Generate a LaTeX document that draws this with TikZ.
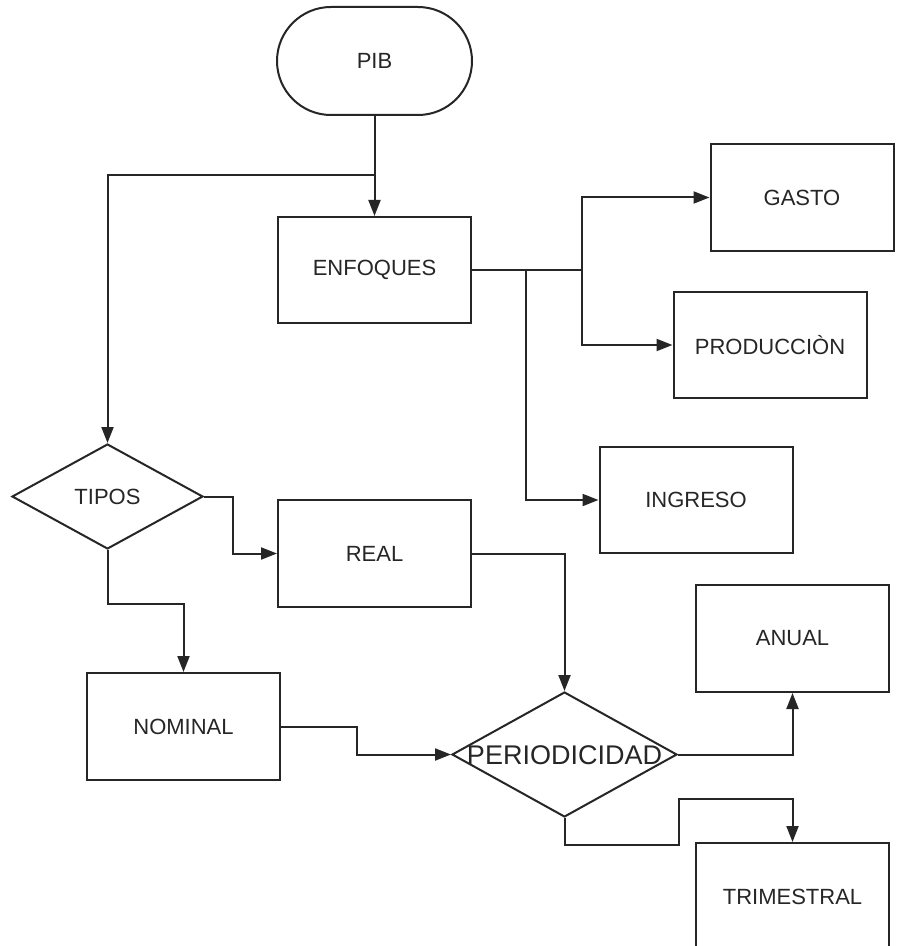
\documentclass[tikz,border=0pt]{standalone}
\usepackage{fontspec}
\setmainfont{Liberation Sans}
\usetikzlibrary{arrows.meta,shapes.geometric}
\definecolor{ink}{HTML}{262626}
\begin{document}
\begin{tikzpicture}[x=0.5pt,y=-0.5pt,
  every node/.style={text=ink,font=\fontsize{11}{13}\selectfont},
  box/.style={draw=ink,line width=1pt,rectangle,inner sep=0pt,
              minimum width=96.5pt,minimum height=53pt},
  terminal/.style={box,rounded corners=27pt,minimum width=97.5pt,minimum height=54pt},
  decision/.style={draw=ink,line width=1pt,diamond,inner sep=0pt},
  link/.style={draw=ink,line width=1pt},
  arr/.style={link,-{Triangle[length=8pt,width=6pt]}}]
\clip (0,0) rectangle (896,946);
\fill[white] (0,0) rectangle (896,946);

% nodes
\node[terminal] (pib) at (374.5,61) {PIB};
\node[box] (enf) at (374.5,270) {ENFOQUES};
\node[box,minimum width=91.5pt,minimum height=53.5pt] (gasto) at (802,197.5) {GASTO};
\node[box] (prod) at (770,345) {PRODUCCIÒN};
\node[box] (ing) at (696,500) {INGRESO};
\node[decision,minimum width=95.5pt,minimum height=52.5pt] (tipos) at (107.5,496.5) {};
\node at (tipos) {TIPOS};
\node[box,minimum height=53.5pt] (real) at (374.5,553.5) {REAL};
\node[box,minimum height=53.5pt] (nom) at (183.5,726.5) {NOMINAL};
\node[decision,minimum width=112.5pt,minimum height=62.5pt] (per) at (564.5,754.5) {};
\node[font=\fontsize{13.5}{15}\selectfont] at (564.5,755) {PERIODICIDAD};
\node[box,minimum height=53.5pt] (anual) at (792.5,638.5) {ANUAL};
\node[box,minimum height=53.5pt] (trim) at (792.5,896.5) {TRIMESTRAL};

% junction points
\coordinate (split) at (374.5,175);
\coordinate (hub) at (582,270);
\coordinate (hubb) at (526,270);

% connectors
\draw[arr] (pib.south) -- (enf.north);
\draw[arr] (split) -| (tipos.north);
\draw[link] (enf.east) -- (hub);
\draw[arr] (hub) |- (gasto.west);
\draw[arr] (hub) |- (prod.west);
\draw[arr] (hubb) |- (ing.west);
\draw[arr] (tipos.east) -- ++(29,0) |- (real.west);
\draw[arr] (tipos.south) -- ++(0,54) -| (nom.north);
\draw[arr] (real.east) -| (per.north);
\draw[arr] (nom.east) -- ++(76,0) |- (per.west);
\draw[arr] (per.east) -| (anual.south);
\draw[arr] (per.south) -- ++(0,27) -- ++(114,0) -- ++(0,-46) -| (trim.north);
\end{tikzpicture}
\end{document}
